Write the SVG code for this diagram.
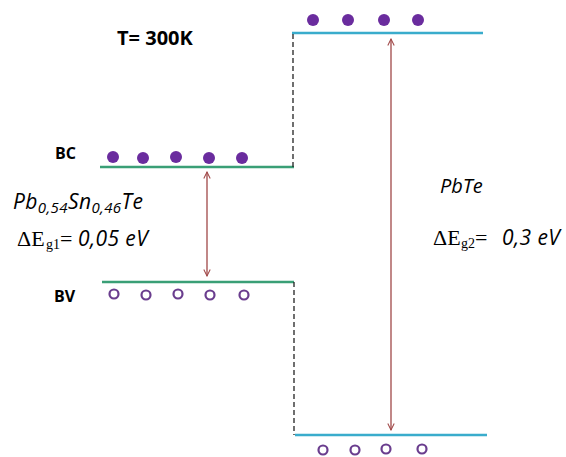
<svg xmlns="http://www.w3.org/2000/svg" width="566" height="457" viewBox="0 0 566 457">
<defs>
<style>
.bold{font-family:"Open Sans","Liberation Sans",sans-serif;font-weight:bold;font-size:16px;fill:#000}
.it{font-family:"Open Sans","Liberation Sans",sans-serif;font-style:italic;font-size:21px;fill:#000;letter-spacing:0.4px}
.sub{font-size:15px}
.serif{font-family:"Liberation Serif",serif;font-size:22px;fill:#000}
.ssub{font-family:"Liberation Serif",serif;font-size:14px;fill:#000}
.green{stroke:#3a9f76;stroke-width:2.5;fill:none}
.blue{stroke:#3aaccc;stroke-width:2.5;fill:none}
.dash{stroke:#222;stroke-width:1.3;stroke-dasharray:5,3;fill:none}
.full{fill:#6a2c9e}
.hole{fill:none;stroke:#6a3d8e;stroke-width:2.2}
.arr{stroke:#a04848;stroke-width:1.3;fill:none;marker-start:url(#ah);marker-end:url(#ah)}
</style>
<marker id="ah" viewBox="0 0 10 10" refX="9" refY="5" markerWidth="8" markerHeight="8" orient="auto-start-reverse" markerUnits="userSpaceOnUse">
<path d="M1,1 L9,5 L1,9" fill="none" stroke="#a04848" stroke-width="1.3"/>
</marker>
</defs>
<rect width="566" height="457" fill="#fff"/>
<g id="title"><text class="bold" x="117" y="45" style="font-size:20px">T= 300K</text></g>
<g id="left-material">
<line class="green" x1="100" y1="167" x2="294" y2="167"/>
<line class="green" x1="102" y1="282" x2="294" y2="282"/>
<circle class="full" cx="113" cy="157" r="6"/>
<circle class="full" cx="143" cy="158" r="6"/>
<circle class="full" cx="176" cy="157" r="6"/>
<circle class="full" cx="209" cy="158" r="6"/>
<circle class="full" cx="242" cy="158" r="6"/>
<circle class="hole" cx="114" cy="294" r="4.5"/>
<circle class="hole" cx="146" cy="295" r="4.5"/>
<circle class="hole" cx="178" cy="294" r="4.5"/>
<circle class="hole" cx="210" cy="295" r="4.5"/>
<circle class="hole" cx="244" cy="295" r="4.5"/>
<text class="bold" x="55" y="159">BC</text>
<text class="bold" x="54" y="302">BV</text>
<text class="it" x="13" y="209">Pb<tspan class="sub" dy="4">0,54</tspan><tspan dy="-4">Sn</tspan><tspan class="sub" dy="4">0,46</tspan><tspan dy="-4">Te</tspan></text>
<text y="246"><tspan class="serif" x="17">ΔE</tspan><tspan class="ssub" x="46" dy="3">g1</tspan><tspan class="serif" x="60" dy="-3">=</tspan><tspan class="it" x="78">0,05 eV</tspan></text>
</g>
<g id="right-material">
<line class="blue" x1="292" y1="33" x2="483" y2="33"/>
<line class="blue" x1="295" y1="435" x2="487" y2="435"/>
<circle class="full" cx="313" cy="20" r="6"/>
<circle class="full" cx="348" cy="20" r="6"/>
<circle class="full" cx="384" cy="20" r="6"/>
<circle class="full" cx="418" cy="20" r="6"/>
<circle class="hole" cx="323" cy="450" r="4.5"/>
<circle class="hole" cx="355" cy="450" r="4.5"/>
<circle class="hole" cx="386" cy="449" r="4.5"/>
<circle class="hole" cx="422" cy="449" r="4.5"/>
<text class="it" x="440" y="193" style="font-size:20px;letter-spacing:0">PbTe</text>
<text y="245"><tspan class="serif" x="433">ΔE</tspan><tspan class="ssub" x="461" dy="3">g2</tspan><tspan class="serif" x="475" dy="-3">=</tspan><tspan class="it" x="502">0,3 eV</tspan></text>
</g>
<g id="connectors">
<line class="dash" x1="293" y1="34" x2="293" y2="167"/>
<line class="dash" x1="294" y1="282" x2="294" y2="435"/>
<line class="arr" x1="207" y1="172" x2="207" y2="276"/>
<line class="arr" x1="391" y1="39" x2="391" y2="430"/>
</g>
</svg>
